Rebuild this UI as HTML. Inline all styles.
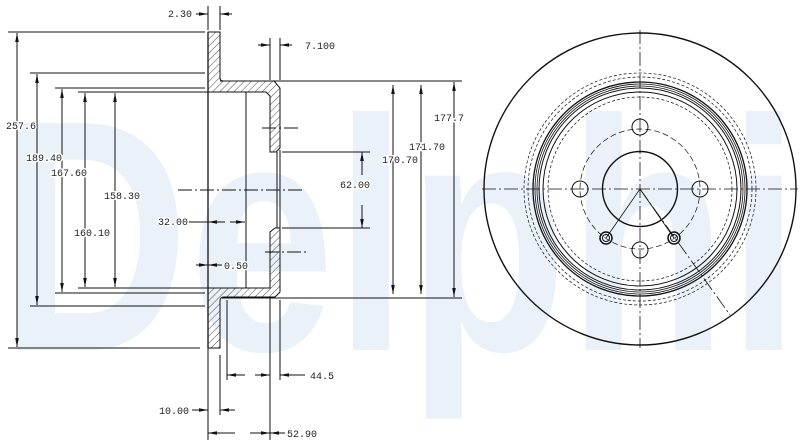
<!DOCTYPE html>
<html><head><meta charset="utf-8"><style>
html,body{margin:0;padding:0;background:#fff;}
svg{display:block}
text.l{font-family:"Liberation Mono",monospace;font-size:10px;fill:#222;stroke:#fff;stroke-width:3px;paint-order:stroke;stroke-linejoin:round}
</style></head><body>
<svg width="800" height="448" viewBox="0 0 800 448" xmlns="http://www.w3.org/2000/svg">
<defs>
<pattern id="h" width="5" height="5" patternUnits="userSpaceOnUse" patternTransform="rotate(45)">
<line x1="0" y1="0" x2="0" y2="5" stroke="#222" stroke-width="0.8"/>
</pattern>
<marker id="a" viewBox="0 0 10 10" refX="10" refY="5" markerWidth="9" markerHeight="9" markerUnits="userSpaceOnUse" orient="auto-start-reverse"><path d="M0,3L10,5L0,7z" fill="#111"/></marker>
</defs>
<text x="0" y="350" textLength="800" lengthAdjust="spacingAndGlyphs" style="font-family:'Liberation Sans',sans-serif;font-weight:bold;font-size:330px;fill:#ebf1f9">Delphi</text>

<g stroke="#111" fill="none" stroke-width="1">
<path d="M208,32H220V78Q220,81 224,81H274L280,88V148L276,152H270V96L266,92H208Z" fill="url(#h)"/>
<path d="M208,288H270V232L275,228H280V292L275,297H224Q220,297 220,301V348H208Z" fill="url(#h)"/>
<path d="M208,32V348" stroke-width="1.3"/>
<path d="M246,92V288M277,152V228M280,150V230"/>
<path d="M220,81H462M222,298H462"/>
<path d="M8,32H205M8,348H200M30,73H205M30,306H205M55,88H205M55,293H205M78,92H208M78,288H208"/>
<g marker-start="url(#a)" marker-end="url(#a)">
<path d="M17,33V347"/><path d="M37,74V305"/><path d="M62,89V292"/><path d="M85,93V287"/><path d="M115,93V287"/>
<path d="M393,85V294"/><path d="M421,85V294"/><path d="M454,82V297"/>
</g>
<path d="M282,152H370M282,228H370"/>
<g marker-end="url(#a)">
<path d="M362,175V152"/><path d="M362,205V228"/>
<path d="M196,14H208"/><path d="M232,14H220"/>
<path d="M258,45H270"/><path d="M292,45H280"/>
<path d="M225,222H208"/><path d="M230,222H245"/>
<path d="M196,265H208"/><path d="M222,265H208"/>
<path d="M245,375H227"/><path d="M255,375H270"/><path d="M305,375H280"/>
<path d="M192,410H208"/><path d="M235,410H220"/>
<path d="M235,433H208"/><path d="M250,433H270"/><path d="M285,433H270"/>
</g>
<path d="M178,190H302" stroke-dasharray="14,3,2,3"/>
<path d="M262,128H300M265,252H308" stroke-dasharray="14,3,2,3"/>
<path d="M208,6V30M220,6V30M270,38V80M280,38V80"/>
<path d="M188,222H208"/>
<path d="M208,348V440M220,355V415M227,300V380M270,298V440M280,300V380"/>
</g>
<g>
<text class="l" x="168" y="17">2.30</text>
<text class="l" x="305" y="49">7.100</text>
<text class="l" x="6" y="129">257.6</text>
<text class="l" x="26" y="161">189.40</text>
<text class="l" x="51" y="176">167.60</text>
<text class="l" x="104" y="199">158.30</text>
<text class="l" x="74" y="236">160.10</text>
<text class="l" x="158" y="225">32.00</text>
<text class="l" x="224" y="269">0.50</text>
<text class="l" x="340" y="188">62.00</text>
<text class="l" x="382" y="163">170.70</text>
<text class="l" x="409" y="150">171.70</text>
<text class="l" x="434" y="121">177.7</text>
<text class="l" x="310" y="379">44.5</text>
<text class="l" x="159" y="414">10.00</text>
<text class="l" x="287" y="437">52.90</text>
</g>

<g stroke="#111" fill="none">
<circle cx="640" cy="189" r="156" stroke-width="1.4"/>
<circle cx="640" cy="189" r="107" stroke-width="1.3"/>
<circle cx="640" cy="189" r="105" stroke-width="0.8"/>
<circle cx="640" cy="189" r="103" stroke-width="0.8"/>
<circle cx="640" cy="189" r="101" stroke-width="1"/>
<circle cx="640" cy="189" r="97" stroke-width="1"/>
<circle cx="640" cy="189" r="112" stroke-width="0.7" stroke-dasharray="3,2"/>
<circle cx="640" cy="189" r="116" stroke-width="0.7" stroke-dasharray="3,2"/>
<circle cx="640" cy="189" r="92" stroke-width="0.7" stroke-dasharray="3,2"/>
<circle cx="640" cy="189" r="60" stroke-width="0.7" stroke-dasharray="6,3"/>
<circle cx="640" cy="189" r="37.5" stroke-width="1.4"/>
<circle cx="640" cy="127" r="8"/>
<circle cx="640" cy="250" r="8"/>
<circle cx="580" cy="189" r="8"/>
<circle cx="700" cy="189" r="8"/>
<circle cx="606" cy="238" r="6" stroke-width="1.5"/><circle cx="606" cy="238" r="3.5"/>
<circle cx="674" cy="238" r="6" stroke-width="1.5"/><circle cx="674" cy="238" r="3.5"/>
<path d="M640,30V348M482,189H798" stroke-width="0.8" stroke-dasharray="14,3,2,3"/>
<path d="M640,189L606,238M640,189L674,238" stroke-width="0.8"/>
<path d="M640,189L730,315" stroke-width="0.8" stroke-dasharray="14,3,2,3"/>
</g>
</svg>
</body></html>
